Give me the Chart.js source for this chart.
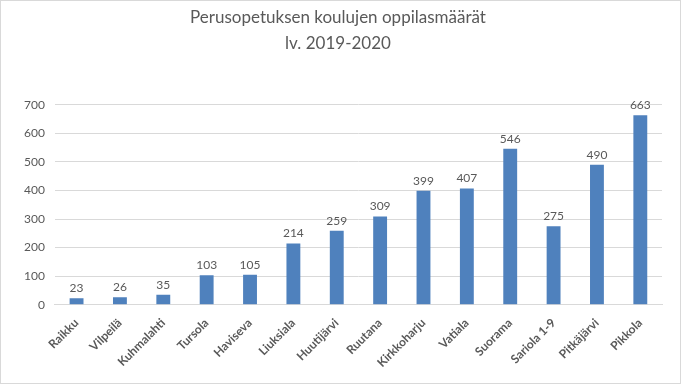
<!DOCTYPE html>
<html>
<head>
<meta charset="utf-8">
<script src="https://cdn.jsdelivr.net/npm/chart.js@4/dist/chart.umd.min.js"></script>
<style>
  html, body { margin: 0; padding: 0; background: #fff; }
  .wrap {
    position: absolute; left: 0; top: 0;
    width: 681px; height: 384px;
    box-sizing: border-box;
    border: 1px solid #d9d9d9;
  }
</style>
</head>
<body>
<div class="wrap"><canvas id="chart"></canvas></div>
<script>
var schools = ['Raikku', 'Vilpeilä', 'Kuhmalahti', 'Tursola', 'Haviseva', 'Liuksiala', 'Huutijärvi',
  'Ruutana', 'Kirkkoharju', 'Vatiala', 'Suorama', 'Sariola 1-9', 'Pitkäjärvi', 'Pikkola'];
var pupils = [23, 26, 35, 103, 105, 214, 259, 309, 399, 407, 546, 275, 490, 663];
var titleLines = ['Perusopetuksen koulujen oppilasmäärät', 'lv. 2019-2020'];

var textGray = '#595959';
var gridGray = '#d9d9d9';

// simple value labels above each bar
var barLabels = {
  id: 'barLabels',
  afterDatasetsDraw: function (chart) {
    var ctx = chart.ctx;
    var meta = chart.getDatasetMeta(0);
    ctx.save();
    ctx.fillStyle = textGray;
    ctx.font = '12px Lato';
    ctx.textAlign = 'center';
    ctx.textBaseline = 'bottom';
    meta.data.forEach(function (bar, i) {
      ctx.fillText(pupils[i], bar.x, bar.y - 4);
    });
    ctx.restore();
  }
};

var ctx = document.getElementById('chart').getContext('2d');
var chart = new Chart(ctx, {
  type: 'bar',
  data: {
    labels: schools,
    datasets: [{
      label: 'Oppilaat',
      data: pupils,
      backgroundColor: '#4f81bd',
      categoryPercentage: 1,
      barPercentage: 0.32
    }]
  },
  options: {
    responsive: true,
    maintainAspectRatio: false,
    animation: false,
    layout: { padding: { top: 3, right: 18, bottom: 10, left: 13 } },
    plugins: {
      legend: { display: false },
      tooltip: { enabled: false },
      title: {
        display: true,
        text: titleLines,
        color: textGray,
        font: { family: 'Lato', size: 17, weight: 'normal', lineHeight: 1.55 },
        padding: { top: 0, bottom: 48 }
      }
    },
    scales: {
      x: {
        grid: { display: false },
        border: { color: gridGray },
        ticks: {
          color: textGray,
          font: { family: 'Lato', size: 12, weight: 'bold' },
          minRotation: 45,
          maxRotation: 45,
          autoSkip: false
        }
      },
      y: {
        min: 0,
        max: 700,
        border: { display: false },
        grid: { color: gridGray, drawTicks: false },
        ticks: {
          stepSize: 100,
          color: textGray,
          padding: 10,
          font: { family: 'Lato', size: 12 }
        }
      }
    }
  },
  plugins: [barLabels]
});
</script>
</body>
</html>
